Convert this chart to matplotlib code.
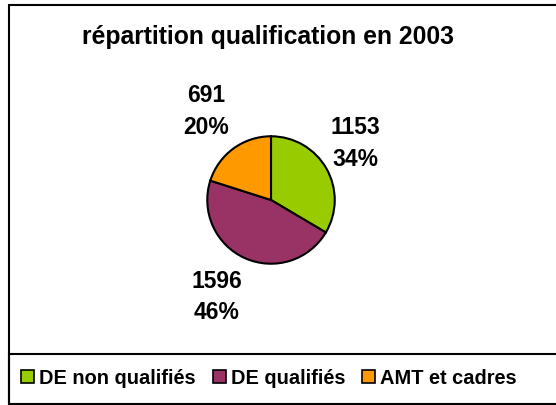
import matplotlib
matplotlib.use("Agg")
import matplotlib.pyplot as plt
from matplotlib.patches import Rectangle, Patch
import numpy as np

plt.rcParams['font.family'] = ['Liberation Sans', 'DejaVu Sans']

categories = ["DE non qualifiés", "DE qualifiés", "AMT et cadres"]
values = [1153, 1596, 691]
percents = ["34%", "46%", "20%"]
colors = ["#99CC00", "#993366", "#FF9900"]
title = "répartition qualification en 2003"

W, H = 556, 405
fig = plt.figure(figsize=(W / 100, H / 100), dpi=100)

# borders
fig.patches.append(Rectangle((9 / W, 0), 1.2, (H - 5) / H, transform=fig.transFigure,
                             fill=False, edgecolor="black", linewidth=1.5))
fig.patches.append(Rectangle((9 / W, (H - 404) / H), 1.2, (404 - 354) / H, transform=fig.transFigure,
                             fill=False, edgecolor="black", linewidth=1.5))

cx, cy, r = 271, 200, 65
ax = fig.add_axes([(cx - r) / W, (H - cy - r) / H, 2 * r / W, 2 * r / H])
wedges, _ = ax.pie(values, colors=colors, startangle=90, counterclock=False,
                   wedgeprops=dict(edgecolor="black", linewidth=1.5), radius=1.0)
ax.set_xlim(-1.02, 1.02)
ax.set_ylim(-1.02, 1.02)
ax.set_aspect("equal")
ax.axis("off")

dists = [1.6, 1.75, 1.72]
offsets = [4, -5, 0]
for w, v, p, d, o in zip(wedges, values, percents, dists, offsets):
    ang = np.deg2rad((w.theta1 + w.theta2) / 2 + o)
    ax.text(d * np.cos(ang), d * np.sin(ang), f"{v}\n{p}", ha="center", va="center",
            fontsize=16.5, fontweight="bold", linespacing=1.45, clip_on=False)

fig.text(268 / W, 1 - 37 / H, title, ha="center", va="center", fontsize=17.8, fontweight="bold")

handles = [Patch(facecolor=c, edgecolor="black", linewidth=1.2) for c in colors]
fig.legend(handles, categories, loc="center", bbox_to_anchor=(269 / W, 1 - 378 / H),
           ncol=3, frameon=False, prop=dict(size=14.4, weight="bold"),
           handlelength=0.65, handleheight=0.65, handletextpad=0.25, columnspacing=0.85,
           borderpad=0, borderaxespad=0)

fig.savefig("out.png", dpi=100)
